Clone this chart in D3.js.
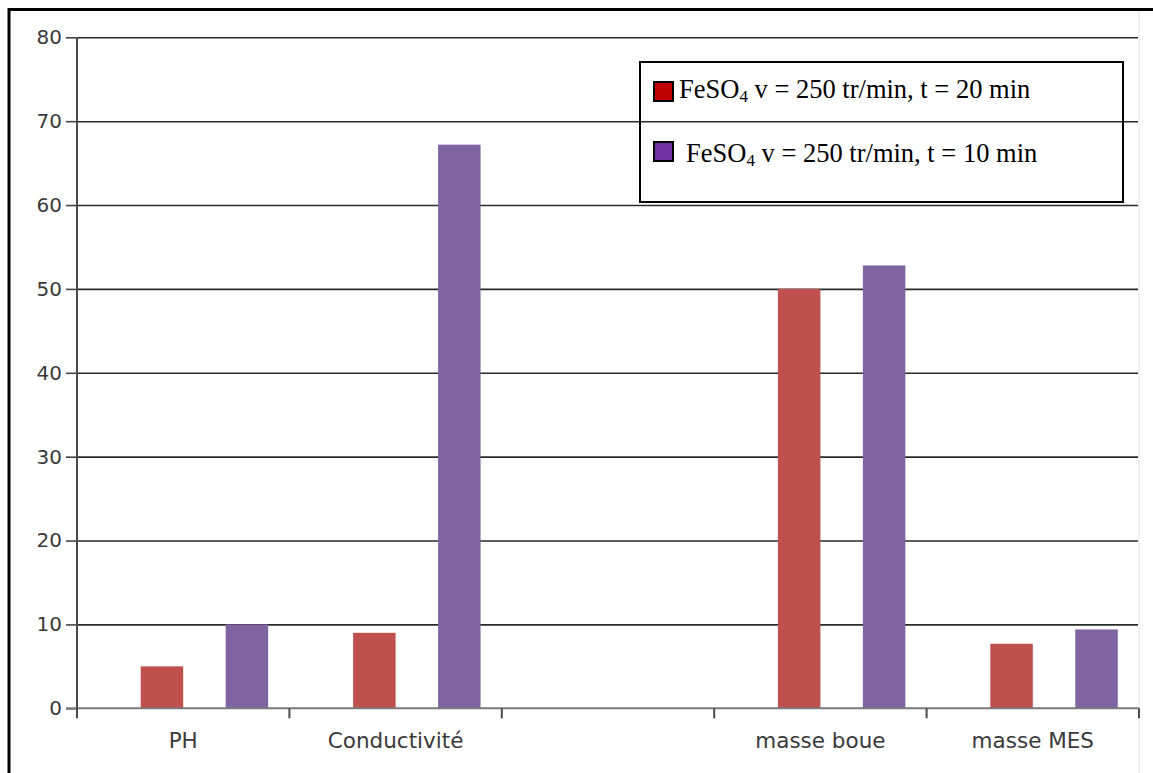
<!DOCTYPE html>
<html>
<head>
<meta charset="utf-8">
<script src="https://cdn.jsdelivr.net/npm/d3@7"></script>
<style>
  html, body { margin: 0; padding: 0; background: #fff; }
  svg { display: block; }
</style>
</head>
<body>
<svg id="chart" width="1153" height="773"></svg>
<script>
// Parameters measured for each sample
const categories = ["PH", "Conductivité", "", "masse boue", "masse MES"];
const serie20min = [5, 9, null, 50, 7.7];      // FeSO4, 250 tr/min, 20 min
const serie10min = [10, 67.2, null, 52.8, 9.4]; // FeSO4, 250 tr/min, 10 min
const yTicks = [0, 10, 20, 30, 40, 50, 60, 70, 80];
const legendLabels = ["t = 20 min", "t = 10 min"];

const svg = d3.select("#chart");

const plotLeft = 77, plotRight = 1139, plotTop = 37.3, plotBottom = 708.3;

const x = d3.scaleBand().domain(d3.range(categories.length)).range([plotLeft, plotRight]).padding(0);
const y = d3.scaleLinear().domain([0, 80]).range([plotBottom, plotTop]);
const bw = x.bandwidth();

// outer frame (left and top edges)
svg.append("line").attr("x1", 9).attr("x2", 9).attr("y1", 8).attr("y2", 773)
  .attr("stroke", "#000").attr("stroke-width", 3);
svg.append("line").attr("x1", 8).attr("x2", 1153).attr("y1", 9.5).attr("y2", 9.5)
  .attr("stroke", "#000").attr("stroke-width", 3);
svg.append("line").attr("x1", 1139).attr("x2", 1139).attr("y1", 11).attr("y2", 773)
  .attr("stroke", "#f0f0f0").attr("stroke-width", 2);

// horizontal gridlines
const grid = svg.append("g").attr("transform", `translate(${plotLeft},0)`)
  .call(d3.axisLeft(y).tickValues(yTicks.filter(v => v > 0)).tickSize(-(plotRight - 1 - plotLeft)).tickFormat(""));
grid.select(".domain").remove();
grid.selectAll(".tick line").attr("stroke", "#2a2a2a").attr("stroke-width", 1.6);

// outer tick marks and labels on y
const yAxis = svg.append("g").attr("transform", `translate(${plotLeft},0)`)
  .call(d3.axisLeft(y).tickValues(yTicks).tickSize(11).tickPadding(4).tickFormat(d3.format("d")));
yAxis.select(".domain").remove();
yAxis.selectAll(".tick line").attr("stroke", "#444").attr("stroke-width", 1.6);
yAxis.selectAll(".tick text")
  .attr("font-family", "DejaVu Sans, Verdana, sans-serif")
  .attr("font-size", 20).attr("fill", "#3a3a3a");

// bars
const bars = svg.append("g");
categories.forEach((c, i) => {
  if (serie20min[i] != null) {
    bars.append("rect")
      .attr("x", x(i) + 0.3 * bw).attr("width", 0.2 * bw)
      .attr("y", y(serie20min[i])).attr("height", y(0) - y(serie20min[i]))
      .attr("fill", "#C0504D");
  }
  if (serie10min[i] != null) {
    bars.append("rect")
      .attr("x", x(i) + 0.7 * bw).attr("width", 0.2 * bw)
      .attr("y", y(serie10min[i])).attr("height", y(0) - y(serie10min[i]))
      .attr("fill", "#8064A2");
  }
});

// baseline and vertical axis
svg.append("line").attr("x1", plotLeft - 11).attr("x2", plotRight).attr("y1", y(0)).attr("y2", y(0))
  .attr("stroke", "#7a7a7a").attr("stroke-width", 2);
svg.append("line").attr("x1", plotLeft).attr("x2", plotLeft).attr("y1", plotTop).attr("y2", y(0) + 10)
  .attr("stroke", "#4a4a4a").attr("stroke-width", 2);

// category boundary ticks
svg.append("g").selectAll("line")
  .data(d3.range(categories.length))
  .join("line")
  .attr("x1", i => x(i) + bw).attr("x2", i => x(i) + bw)
  .attr("y1", y(0)).attr("y2", y(0) + 10)
  .attr("stroke", "#4a4a4a").attr("stroke-width", 2);

// category labels
const xAxis = svg.append("g").attr("transform", `translate(0,${y(0)})`)
  .call(d3.axisBottom(x).tickSize(0).tickPadding(24).tickFormat(i => categories[i]));
xAxis.select(".domain").remove();
xAxis.selectAll(".tick text")
  .attr("font-family", "DejaVu Sans, Verdana, sans-serif")
  .attr("font-size", 21.5).attr("fill", "#3a3a3a");

// legend
const legend = svg.append("g");
legend.append("rect").attr("x", 640).attr("y", 62).attr("width", 483).attr("height", 140)
  .attr("fill", "none").attr("stroke", "#000").attr("stroke-width", 2);

const legendRows = [
  { sw: "#C00000", ys: 82, tx: 679, base: 98, label: legendLabels[0] },
  { sw: "#7030A0", ys: 142, tx: 686, base: 162, label: legendLabels[1] }
];
legendRows.forEach(r => {
  legend.append("rect").attr("x", 654).attr("y", r.ys).attr("width", 19).attr("height", 19)
    .attr("fill", r.sw).attr("stroke", "#000").attr("stroke-width", 2);
  const t = legend.append("text").attr("x", r.tx).attr("y", r.base)
    .attr("font-family", "Liberation Serif, Times New Roman, serif")
    .attr("font-size", 26.5).attr("fill", "#000");
  t.append("tspan").text("FeSO");
  t.append("tspan").attr("font-size", 17).attr("dy", 4).text("4");
  t.append("tspan").attr("dy", -4).text(" v = 250 tr/min, " + r.label);
});
</script>
</body>
</html>
